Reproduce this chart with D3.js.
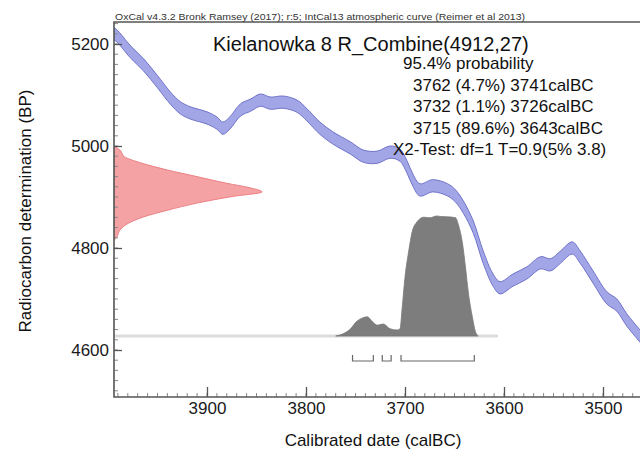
<!DOCTYPE html>
<html>
<head>
	<title></title>
	<script src="https://d3js.org/d3.v7.min.js"></script>
	<style>
		body { margin: 0; background: #fff; }
		svg { display: block; font-family: "Liberation Sans", Arial, sans-serif; }
		.axis .domain { display: none; }
		.axis line { stroke: #555; stroke-width: 1.3; }
		.axis text { fill: #1a1a1a; font-size: 17px; font-family: "Liberation Sans", Arial, sans-serif; }
	</style>
</head>
<body>
	<svg width="640" height="452"></svg>
<script type="text/javascript">

	// IntCal13 curve (calBC -> BP)
	const curveYears = [3994, 3991, 3977, 3964, 3950, 3937, 3927, 3917, 3900, 3890, 3884, 3877, 3866, 3856, 3846, 3836, 3823, 3809, 3799, 3786, 3773, 3755, 3742, 3728, 3715, 3705, 3698, 3692, 3685, 3672, 3657, 3649, 3641, 3631, 3621, 3611, 3604, 3591, 3577, 3563, 3553, 3543, 3531, 3523, 3510, 3496, 3486, 3476, 3462];
	const curveBP = [5220, 5216, 5184, 5159, 5126, 5094, 5075, 5065, 5055, 5045, 5035, 5045, 5071, 5080, 5090, 5084, 5086, 5078, 5061, 5035, 5016, 4996, 4980, 4978, 4988, 4982, 4959, 4933, 4914, 4922, 4914, 4902, 4880, 4841, 4782, 4737, 4722, 4737, 4751, 4771, 4767, 4782, 4800, 4782, 4743, 4702, 4688, 4659, 4626];
	const curveErr = 12;

	// R_Combine date on the BP axis (relative height)
	const dateBP = [5000, 4992, 4979, 4967, 4953, 4940, 4927, 4918, 4910, 4901, 4888, 4874, 4861, 4849, 4835, 4822, 4815];
	const dateDens = [0, 0.04, 0.07, 0.18, 0.36, 0.56, 0.76, 0.92, 1, 0.8, 0.56, 0.36, 0.2, 0.1, 0.04, 0.02, 0];

	// calibrated distribution
	const postYears = [3770, 3762, 3755, 3749, 3743, 3738, 3733, 3728, 3722, 3715, 3708, 3705, 3703, 3700, 3696, 3693, 3688, 3681, 3675, 3668, 3664, 3658, 3649, 3646, 3642, 3639, 3636, 3632, 3629, 3626];
	const postDens = [0, 0.02, 0.06, 0.12, 0.15, 0.16, 0.12, 0.09, 0.10, 0.06, 0.05, 0.06, 0.22, 0.49, 0.72, 0.86, 0.95, 0.99, 0.985, 1, 0.996, 0.994, 0.986, 0.925, 0.775, 0.58, 0.36, 0.16, 0.04, 0];

	// 95.4% range brackets as drawn
	const rangeFrom = [3753, 3723, 3704];
	const rangeTo = [3732, 3714, 3630];

	const xTicks = [3900, 3800, 3700, 3600, 3500];
	const yTicks = [4600, 4800, 5000, 5200];

	const header = "OxCal v4.3.2 Bronk Ramsey (2017); r:5; IntCal13 atmospheric curve (Reimer et al 2013)";
	const title = "Kielanowka 8 R_Combine(4912,27)";
	const statLines = ["95.4% probability", "3762 (4.7%) 3741calBC", "3732 (1.1%) 3726calBC", "3715 (89.6%) 3643calBC", "X2-Test: df=1 T=0.9(5% 3.8)"];
	const statIndent = [10, 20, 20, 20, 0];

	var svg = d3.select("svg");
	const plot = {left: 114, right: 640, top: 22, bottom: 397};

	var x = d3.scaleLinear().domain([3900, 3500]).range([207, 603]);
	var y = d3.scaleLinear().domain([5000, 4600]).range([146, 350]);
	var dens = d3.scaleLinear().domain([0, 1]).range([plot.left, 262]);
	var post = d3.scaleLinear().domain([0, 1]).range([336, 216]);

	svg.append("clipPath").attr("id", "clip")
		.append("rect")
		.attr("x", plot.left).attr("y", plot.top)
		.attr("width", plot.right - plot.left).attr("height", plot.bottom - plot.top);

	const g = svg.append("g").attr("clip-path", "url(#clip)");

	// faint baseline under the distribution
	g.append("line")
		.attr("x1", plot.left).attr("x2", 498)
		.attr("y1", 336).attr("y2", 336)
		.attr("stroke", "#dcdcdc")
		.attr("stroke-width", 3);

	g.append("path")
		.datum(postYears.map(function(d, i) { return [d, postDens[i]]; }))
		.attr("fill", "#7d7d7d")
		.attr("stroke", "#777")
		.attr("stroke-width", 0.8)
		.attr("d", d3.area()
			.x(function(d) { return x(d[0]); })
			.y0(post(0))
			.y1(function(d) { return post(d[1]); })
			.curve(d3.curveMonotoneX));

	g.append("path")
		.datum(dateBP.map(function(d, i) { return [d, dateDens[i]]; }))
		.attr("fill", "#f5a2a5")
		.attr("stroke", "#ec8085")
		.attr("stroke-width", 1)
		.attr("d", d3.area()
			.y(function(d) { return y(d[0]); })
			.x0(plot.left)
			.x1(function(d) { return dens(d[1]); })
			.curve(d3.curveMonotoneY));

	g.append("path")
		.datum(curveYears.map(function(d, i) { return [d, curveBP[i]]; }))
		.attr("fill", "#a3a6e6")
		.attr("stroke", "#6f73c9")
		.attr("stroke-width", 1)
		.attr("d", d3.area()
			.x(function(d) { return x(d[0]); })
			.y0(function(d) { return y(d[1] - curveErr); })
			.y1(function(d) { return y(d[1] + curveErr); })
			.curve(d3.curveCatmullRom));

	// range brackets
	const brackets = svg.append("g")
		.attr("stroke", "#666")
		.attr("stroke-width", 1.2)
		.attr("fill", "none")
		.selectAll("path")
		.data(rangeFrom)
		.enter().append("path")
		.attr("d", function(d, i) {
			var a = x(d), b = x(rangeTo[i]);
			return "M" + a + ",355V361H" + b + "V355";
		});

	// minor ticks
	svg.append("g")
		.attr("stroke", "#888")
		.attr("stroke-width", 1)
		.selectAll("line")
		.data(d3.range(3470, 3995, 10))
		.enter().append("line")
		.attr("x1", function(d) { return x(d); })
		.attr("x2", function(d) { return x(d); })
		.attr("y1", plot.bottom).attr("y2", plot.bottom - 4);

	svg.append("g")
		.attr("stroke", "#888")
		.attr("stroke-width", 1)
		.selectAll("line")
		.data(d3.range(4520, 5250, 20))
		.enter().append("line")
		.attr("y1", function(d) { return y(d); })
		.attr("y2", function(d) { return y(d); })
		.attr("x1", plot.left).attr("x2", plot.left + 4);

	const xAxis = svg.append("g")
		.attr("class", "axis")
		.attr("transform", "translate(0," + plot.bottom + ")")
		.call(d3.axisBottom(x).tickValues(xTicks).tickSize(-10).tickSizeOuter(0).tickPadding(5).tickFormat(d3.format("d")));

	const yAxis = svg.append("g")
		.attr("class", "axis")
		.attr("transform", "translate(" + plot.left + ",0)")
		.call(d3.axisLeft(y).tickValues(yTicks).tickSize(-8).tickSizeOuter(0).tickPadding(5).tickFormat(d3.format("d")));

	// frame
	svg.append("path")
		.attr("d", "M" + plot.right + "," + plot.top + "H" + plot.left + "V" + plot.bottom + "H" + plot.right)
		.attr("fill", "none")
		.attr("stroke", "#555")
		.attr("stroke-width", 1.6);

	svg.append("text")
		.attr("x", 115).attr("y", 20)
		.attr("font-size", 9.5)
		.attr("fill", "#333")
		.attr("textLength", 410)
		.attr("lengthAdjust", "spacingAndGlyphs")
		.text(header);

	svg.append("text")
		.attr("x", 213).attr("y", 51)
		.attr("font-size", 20)
		.attr("fill", "#111")
		.text(title);

	svg.append("g")
		.attr("font-size", 17)
		.attr("fill", "#111")
		.selectAll("text")
		.data(statLines)
		.enter().append("text")
		.attr("x", function(d, i) { return 393 + statIndent[i]; })
		.attr("y", function(d, i) { return 69 + i * 21.6; })
		.text(function(d) { return d; });

	svg.append("text")
		.attr("x", 373).attr("y", 446)
		.attr("text-anchor", "middle")
		.attr("font-size", 17)
		.attr("fill", "#111")
		.text("Calibrated date (calBC)");

	svg.append("text")
		.attr("transform", "translate(31,211) rotate(-90)")
		.attr("text-anchor", "middle")
		.attr("font-size", 17)
		.attr("fill", "#111")
		.text("Radiocarbon determination (BP)");

</script>
</body>
</html>
